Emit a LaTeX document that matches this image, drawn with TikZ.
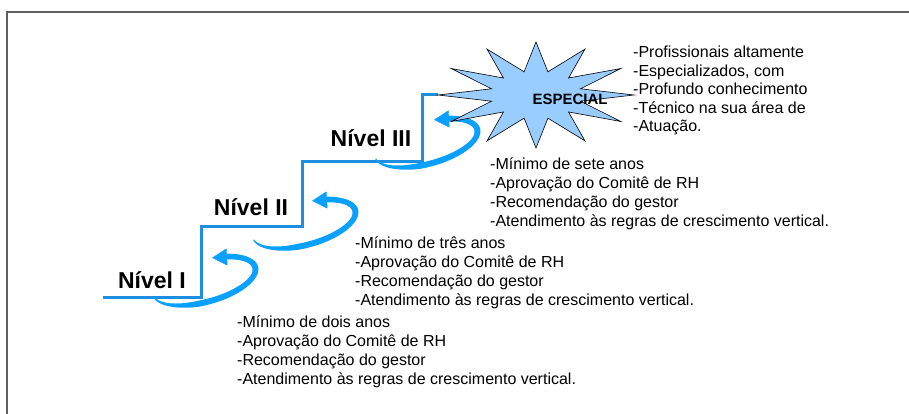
\documentclass[tikz,border=0pt]{standalone}
\usepackage{fontspec}
\setmainfont{Liberation Sans}
\usetikzlibrary{arrows.meta}
\definecolor{stairblue}{RGB}{30,143,224}
\definecolor{arcblue}{RGB}{10,160,255}
\definecolor{starblue}{RGB}{153,204,255}
\definecolor{framegray}{RGB}{96,96,96}

\begin{document}
\begin{tikzpicture}[x=1pt, y=1pt,
        stair/.style={stairblue, line width=3pt},
        turn/.style={arcblue, line width=0.4pt, -{Triangle[width=17pt,length=15pt]}},
        level/.style={font=\fontsize{23}{27}\selectfont\bfseries, inner sep=0pt},
        req/.style={font=\fontsize{16}{19}\selectfont, align=left, anchor=base west, inner sep=0pt},
        burst/.style={draw=black, line width=0.6pt, fill=starblue, line join=miter}]
        \useasboundingbox (0,0) rectangle (909,414);

        % Frame of the slide
        \draw[framegray, line width=1.2pt] (7,0) -- (7,402) -- (909,402);

        % The stairs up to the star
        \draw[stair] (103,116) -- (201,116) -- (201,187) -- (302,187) -- (302,252) -- (422,252) -- (422,319) -- (438,319);

        % Curved arrows from one step to the next
        \foreach \cx/\cy in {204/133, 304/190, 426/271} {
            \begin{scope}[shift={(\cx,\cy)}, rotate=15]
                \fill[arcblue] plot[domain=186:420, samples=60] ({(53+0.5*min(6,1+0.07*(\x-186)))*cos(\x)}, {(21+0.5*min(6,1+0.07*(\x-186)))*sin(\x)})
                    -- plot[domain=420:186, samples=60] ({(53-0.5*min(6,1+0.07*(\x-186)))*cos(\x)}, {(21-0.5*min(6,1+0.07*(\x-186)))*sin(\x)}) -- cycle;
                \draw[turn] (50:53 and 21) -- (75:53 and 21);
            \end{scope}
        }

        % The star on top
        \begin{scope}[shift={(536,319)}]
            \draw[burst] (0:98 and 53) \foreach \a in {30,60,...,330} { -- (\a-15:46 and 24) -- (\a:98 and 53) } -- (345:46 and 24) -- cycle;
        \end{scope}
        \node[font=\fontsize{15}{18}\selectfont\bfseries, inner sep=0pt] (esp) at (570,315) {ESPECIAL};

        % Label the steps
        \node[level] (lvlone) at (152,134) {Nível I};
        \node[level] (lvltwo) at (251,207) {Nível II};
        \node[level] (lvlthree) at (371,276) {Nível III};

        % What each step asks for (placed by the last line)
        \node[req] (reqone) at (237,29) {-Mínimo de dois anos\\-Aprovação do Comitê de RH\\-Recomendação do gestor\\-Atendimento às regras de crescimento vertical.};
        \node[req] (reqtwo) at (355,108) {-Mínimo de três anos\\-Aprovação do Comitê de RH\\-Recomendação do gestor\\-Atendimento às regras de crescimento vertical.};
        \node[req] (reqthree) at (490,187) {-Mínimo de sete anos\\-Aprovação do Comitê de RH\\-Recomendação do gestor\\-Atendimento às regras de crescimento vertical.};
        \node[req, font=\fontsize{16}{18.5}\selectfont] (esptext) at (633,282) {-Profissionais altamente\\-Especializados, com\\-Profundo conhecimento\\-Técnico na sua área de\\-Atuação.};
\end{tikzpicture}
\end{document}
